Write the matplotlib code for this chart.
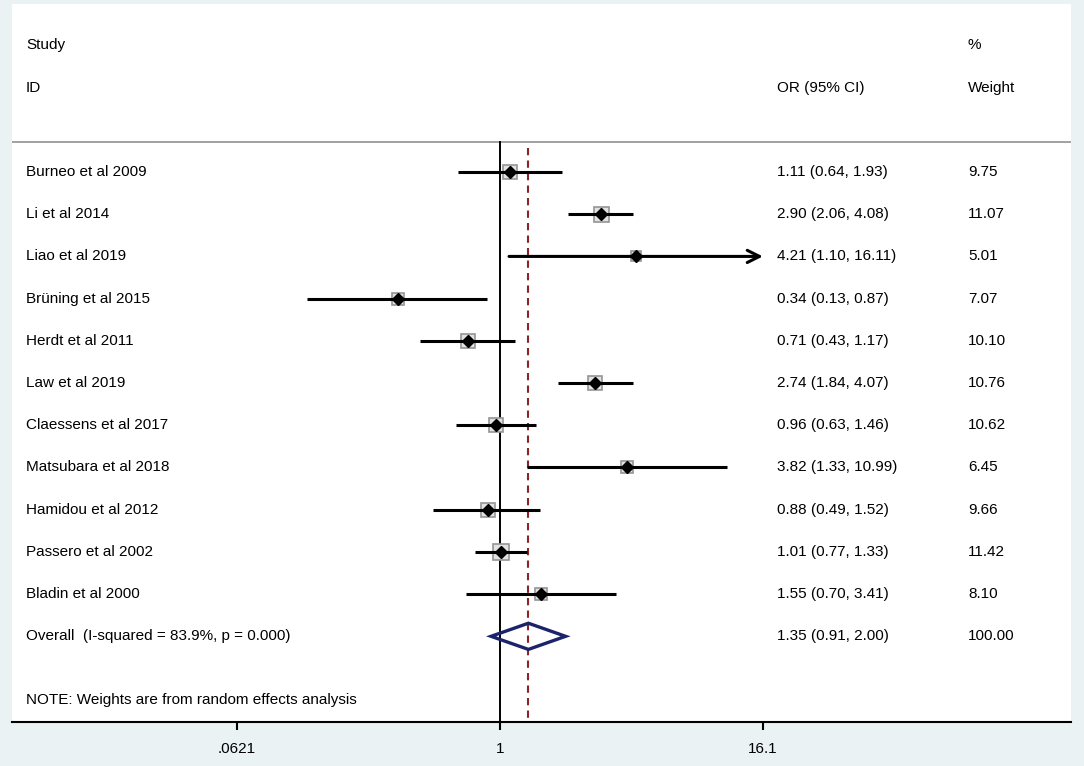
import numpy as np
import matplotlib
matplotlib.use("Agg")
import matplotlib.pyplot as plt
from matplotlib.transforms import blended_transform_factory

# ---- data ----
studies = ["Burneo et al 2009", "Li et al 2014", "Liao et al 2019", "Brüning et al 2015",
           "Herdt et al 2011", "Law et al 2019", "Claessens et al 2017", "Matsubara et al 2018",
           "Hamidou et al 2012", "Passero et al 2002", "Bladin et al 2000"]
or_est = [1.11, 2.90, 4.21, 0.34, 0.71, 2.74, 0.96, 3.82, 0.88, 1.01, 1.55]
ci_low = [0.64, 2.06, 1.10, 0.13, 0.43, 1.84, 0.63, 1.33, 0.49, 0.77, 0.70]
ci_high = [1.93, 4.08, 16.11, 0.87, 1.17, 4.07, 1.46, 10.99, 1.52, 1.33, 3.41]
weights = [9.75, 11.07, 5.01, 7.07, 10.10, 10.76, 10.62, 6.45, 9.66, 11.42, 8.10]
ci_text = ["1.11 (0.64, 1.93)", "2.90 (2.06, 4.08)", "4.21 (1.10, 16.11)", "0.34 (0.13, 0.87)",
           "0.71 (0.43, 1.17)", "2.74 (1.84, 4.07)", "0.96 (0.63, 1.46)", "3.82 (1.33, 10.99)",
           "0.88 (0.49, 1.52)", "1.01 (0.77, 1.33)", "1.55 (0.70, 3.41)"]
weight_text = ["9.75", "11.07", "5.01", "7.07", "10.10", "10.76", "10.62", "6.45", "9.66", "11.42", "8.10"]

overall_label = "Overall  (I-squared = 83.9%, p = 0.000)"
overall_est, overall_low, overall_high = 1.35, 0.91, 2.00
overall_ci_text = "1.35 (0.91, 2.00)"
overall_weight_text = "100.00"
note_text = "NOTE: Weights are from random effects analysis"

tick_vals = [0.0621, 1, 16.1]
tick_labels = [".0621", "1", "16.1"]

# ---- styling ----
plt.rcParams['font.family'] = ['Liberation Sans', 'DejaVu Sans']
FS = 11
BG = '#EAF2F3'

W, H = 1084, 766
fig = plt.figure(figsize=(W / 100, H / 100), dpi=100, facecolor=BG)
ax = fig.add_axes([12 / W, (H - 722) / H, (1071 - 12) / W, (722 - 4) / H])
ax.set_facecolor('white')

ax.set_xscale('log')
ax.set_xlim(np.exp(-488 / 94.6), np.exp(571 / 94.6))
ax.set_ylim(13.03, -3.98)

for s in ['top', 'left', 'right']:
    ax.spines[s].set_visible(False)
ax.spines['bottom'].set_linewidth(1.5)
ax.set_yticks([])
ax.set_xticks(tick_vals)
ax.set_xticklabels(tick_labels, fontsize=FS)
ax.minorticks_off()
ax.tick_params(axis='x', direction='out', length=5.5, width=1.5, pad=9)

n = len(studies)
rows = np.arange(n)
overall_row = n
note_row = n + 1.5

trans = blended_transform_factory(ax.transAxes, ax.transData)
col_name, col_ci, col_w = 0.0132, 0.7224, 0.9027

# header
ax.text(col_name, -3, "Study", transform=trans, fontsize=FS, va='center', ha='left')
ax.text(col_name, -2, "ID", transform=trans, fontsize=FS, va='center', ha='left')
ax.text(col_ci, -2, "OR (95% CI)", transform=trans, fontsize=FS, va='center', ha='left')
ax.text(col_w, -3, "%", transform=trans, fontsize=FS, va='center', ha='left')
ax.text(col_w, -2, "Weight", transform=trans, fontsize=FS, va='center', ha='left')
ax.axhline(-0.71, color='#9a9a9a', lw=1.3)

# reference lines
ax.plot([1, 1], [-0.71, 13.03], color='black', lw=1.4, zorder=2)
ax.plot([overall_est, overall_est], [-0.57, 13.03], color='#8E2327', lw=1.5,
        ls=(0, (3.5, 2.5)), zorder=2)

xmax_ci = tick_vals[-1]
box_scale = 10.8 / np.sqrt(11.07)
for i in range(n):
    y = rows[i]
    ax.plot(or_est[i], y, marker='s', ms=box_scale * np.sqrt(weights[i]),
            mfc='#e2e2e2', mec='#959595', mew=1.2, ls='none', zorder=3)
    if ci_high[i] > xmax_ci:
        ax.annotate('', xy=(xmax_ci, y), xytext=(ci_low[i], y),
                    arrowprops=dict(arrowstyle='->', lw=2.2, color='black',
                                    mutation_scale=22, shrinkA=0, shrinkB=0), zorder=4)
    else:
        ax.plot([ci_low[i], ci_high[i]], [y, y], color='black', lw=2.2,
                solid_capstyle='butt', zorder=4)
    ax.plot(or_est[i], y, marker='D', ms=5.8, color='black', ls='none', zorder=5)
    ax.text(col_name, y, studies[i], transform=trans, fontsize=FS, va='center', ha='left')
    ax.text(col_ci, y, ci_text[i], transform=trans, fontsize=FS, va='center', ha='left')
    ax.text(col_w, y, weight_text[i], transform=trans, fontsize=FS, va='center', ha='left')

# overall diamond
dh = 0.31
ax.fill([overall_low, overall_est, overall_high, overall_est],
        [overall_row, overall_row - dh, overall_row, overall_row + dh],
        facecolor='none', edgecolor='#1B236B', lw=2.4, zorder=4)
ax.text(col_name, overall_row, overall_label, transform=trans, fontsize=FS, va='center', ha='left')
ax.text(col_ci, overall_row, overall_ci_text, transform=trans, fontsize=FS, va='center', ha='left')
ax.text(col_w, overall_row, overall_weight_text, transform=trans, fontsize=FS, va='center', ha='left')

ax.text(col_name, note_row, note_text, transform=trans, fontsize=FS, va='center', ha='left')

fig.savefig('out.png', dpi=100, facecolor=BG)
